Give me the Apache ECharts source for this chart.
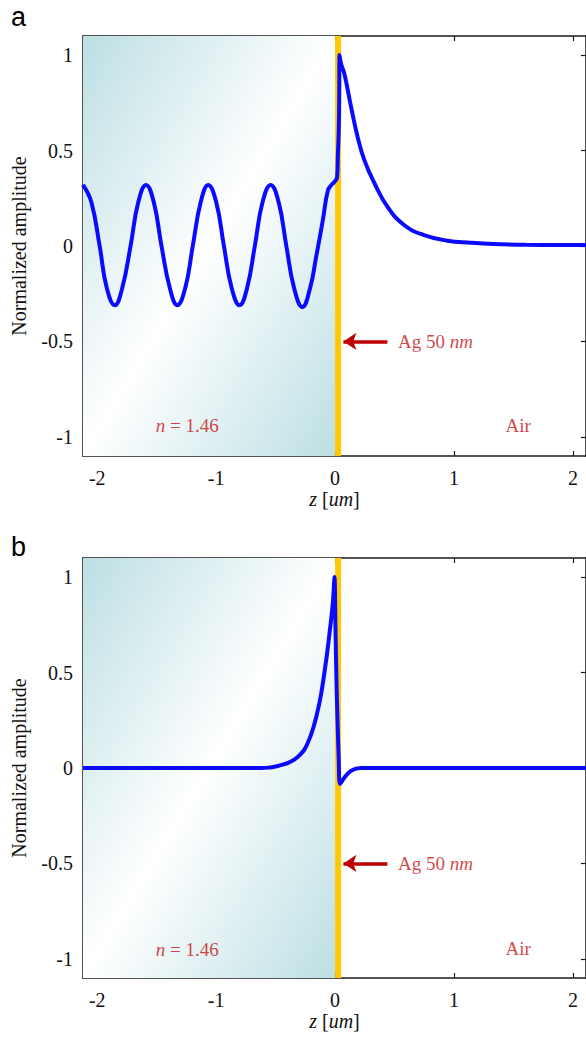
<!DOCTYPE html>
<html><head><meta charset="utf-8">
<script src="https://cdn.jsdelivr.net/npm/echarts@6/dist/echarts.min.js"></script>
<style>html,body{margin:0;padding:0;background:#fff}#c{width:586px;height:1041px}</style>
</head><body><div id="c"></div>
<script>
// ---- data ----
const xTicks = [-2, -1, 0, 1, 2];
const yTicks = [-1, -0.5, 0, 0.5, 1];
const xRange = [-2.12, 2.11];
const yRange = [-1.1, 1.1];
const glassRange = [-2.12, 0];      // n = 1.46 substrate (um)
const silverRange = [0, 0.05];      // Ag 50 nm layer (um)

// panel a
const zA = [-2.12,-2.05,-1.98,-1.92,-1.852,-1.79,-1.72,-1.655,-1.59,-1.525,-1.46,-1.39,-1.327,-1.26,-1.197,-1.13,-1.067,-1.0,-0.935,-0.87,-0.803,-0.74,-0.675,-0.61,-0.542,-0.475,-0.41,-0.345,-0.275,-0.21,-0.16,-0.103,-0.061,-0.03,-0.005,0.017,0.023,0.031,0.035,0.037,0.05,0.079,0.134,0.19,0.246,0.33,0.441,0.58,0.748,0.943,1.14,1.33,1.6,1.9,2.11];
const ampA = [0.32,0.23,0,-0.22,-0.31,-0.22,0,0.23,0.32,0.23,0,-0.22,-0.31,-0.22,0,0.23,0.32,0.23,0,-0.22,-0.31,-0.22,0,0.23,0.32,0.23,0,-0.22,-0.32,-0.22,-0.06,0.136,0.29,0.32,0.336,0.36,0.47,0.61,0.8,1.0,0.955,0.9,0.73,0.57,0.45,0.33,0.205,0.11,0.057,0.028,0.017,0.01,0.006,0.005,0.005];
// panel b
const zB = [-2.12,-0.62,-0.56,-0.5,-0.452,-0.4,-0.34,-0.3,-0.256,-0.2,-0.159,-0.117,-0.075,-0.047,-0.019,-0.005,0.003,0.014,0.031,0.042,0.079,0.134,0.218,2.11];
const ampB = [0,0,0.002,0.008,0.016,0.026,0.045,0.066,0.098,0.179,0.266,0.389,0.565,0.705,0.863,1.0,0.74,0.39,0.04,-0.084,-0.05,-0.014,0,0];

// annotations (text, z, amplitude)
const labelTexts = ['Ag 50 {i|nm}', 'Air', '{i|n} = 1.46'];
const labelZ = [0.525, 1.54, -1.243];
const labelAmpA = [-0.5, -0.94, -0.94];
const labelAmpB = [-0.5, -0.945, -0.953];
const arrowZ = [0.44, 0.07];
const arrowAmp = -0.5;
const panelLetters = ['a', 'b'];

// ---- chart ----
const SERIF = "'Liberation Serif','Times New Roman',serif";
const chart = echarts.init(document.getElementById('c'), null, {renderer: 'svg'});
const axisCol = '#1a1a1a';
const red = '#c41414';

function xAxis(grid, pos, main) {
  return {
    type: 'value', gridIndex: grid, position: pos, min: xRange[0], max: xRange[1],
    axisLine: {show: true, onZero: false, lineStyle: {color: axisCol, width: 1.5}},
    axisTick: {show: true, inside: true, length: 5, customValues: xTicks, lineStyle: {color: axisCol, width: 1.2}},
    axisLabel: {show: main, customValues: xTicks, margin: 12, fontFamily: SERIF, fontSize: 20, color: '#111'},
    splitLine: {show: false},
    name: main ? '{i|z} [{i|um}]' : '', nameLocation: 'middle', nameGap: 33,
    nameTextStyle: {fontFamily: SERIF, fontSize: 20, color: '#111',
      rich: {i: {fontFamily: SERIF, fontSize: 20, fontStyle: 'italic', color: '#111'}}}
  };
}
function yAxis(grid, pos, main) {
  return {
    type: 'value', gridIndex: grid, position: pos, min: yRange[0], max: yRange[1],
    axisLine: {show: true, onZero: false, lineStyle: {color: axisCol, width: 1.5}},
    axisTick: {show: true, inside: true, length: 5, customValues: yTicks, lineStyle: {color: axisCol, width: 1.2}},
    axisLabel: {show: main, customValues: yTicks, margin: 10, fontFamily: SERIF, fontSize: 20, color: '#111'},
    splitLine: {show: false},
    name: main ? 'Normalized amplitude' : '', nameLocation: 'middle', nameGap: 54, nameRotate: 90,
    nameTextStyle: {fontFamily: SERIF, fontSize: 20, color: '#111'}
  };
}
function pairs(xs, ys) { return xs.map((x, i) => [x, ys[i]]); }

function panelSeries(ax, zs, amps, labAmp, smooth) {
  return [{
    type: 'line', xAxisIndex: ax, yAxisIndex: ax, data: pairs(zs, amps),
    smooth: smooth, showSymbol: false, z: 5,
    lineStyle: {color: '#0a0aff', width: 4},
    markArea: {
      silent: true, z: 1,
      data: [
        [{xAxis: glassRange[0], itemStyle: {color: {type: 'linear', x: 0, y: 0, x2: 1, y2: 1,
          colorStops: [{offset: 0, color: '#bcdfe3'}, {offset: 0.5, color: '#ffffff'}, {offset: 1, color: '#bcdfe3'}]}}},
         {xAxis: glassRange[1]}],
        [{xAxis: silverRange[0], itemStyle: {color: '#ffc800'}}, {xAxis: silverRange[1]}]
      ]
    },
    markLine: {
      silent: true, symbol: ['none', 'arrow'], symbolSize: [13, 13], z: 6,
      lineStyle: {color: '#c00000', width: 3.5, type: 'solid'}, label: {show: false},
      data: [[{coord: [arrowZ[0], arrowAmp]}, {coord: [arrowZ[1], arrowAmp]}]]
    }
  }, {
    type: 'scatter', xAxisIndex: ax, yAxisIndex: ax, symbolSize: 1, silent: true, z: 7,
    itemStyle: {color: 'rgba(0,0,0,0)'},
    label: {show: true, position: 'inside', color: red, fontFamily: SERIF, fontSize: 19,
      formatter: p => p.name, rich: {i: {fontFamily: SERIF, fontSize: 19, fontStyle: 'italic', color: red}}},
    data: labelTexts.map((t, i) => ({name: t, value: [labelZ[i], labAmp[i]],
      label: i === 0 ? {position: 'right', distance: 0} : {}}))
  }];
}

chart.setOption({
  animation: false,
  backgroundColor: '#fff',
  grid: [
    {left: 83, top: 36, width: 505, height: 420},
    {left: 83, top: 558, width: 505, height: 420}
  ],
  xAxis: [xAxis(0, 'bottom', true), xAxis(0, 'top', false), xAxis(1, 'bottom', true), xAxis(1, 'top', false)],
  yAxis: [yAxis(0, 'left', true), yAxis(0, 'right', false), yAxis(1, 'left', true), yAxis(1, 'right', false)],
  series: [...panelSeries(0, zA, ampA, labelAmpA, 0.45), ...panelSeries(2, zB, ampB, labelAmpB, 0.3)],
  graphic: [
    {type: 'text', left: 11, top: 3, style: {text: panelLetters[0], font: "27px 'Liberation Sans', Arial, sans-serif", fill: '#000'}},
    {type: 'text', left: 11, top: 533, style: {text: panelLetters[1], font: "27px 'Liberation Sans', Arial, sans-serif", fill: '#000'}}
  ]
});
</script></body></html>
